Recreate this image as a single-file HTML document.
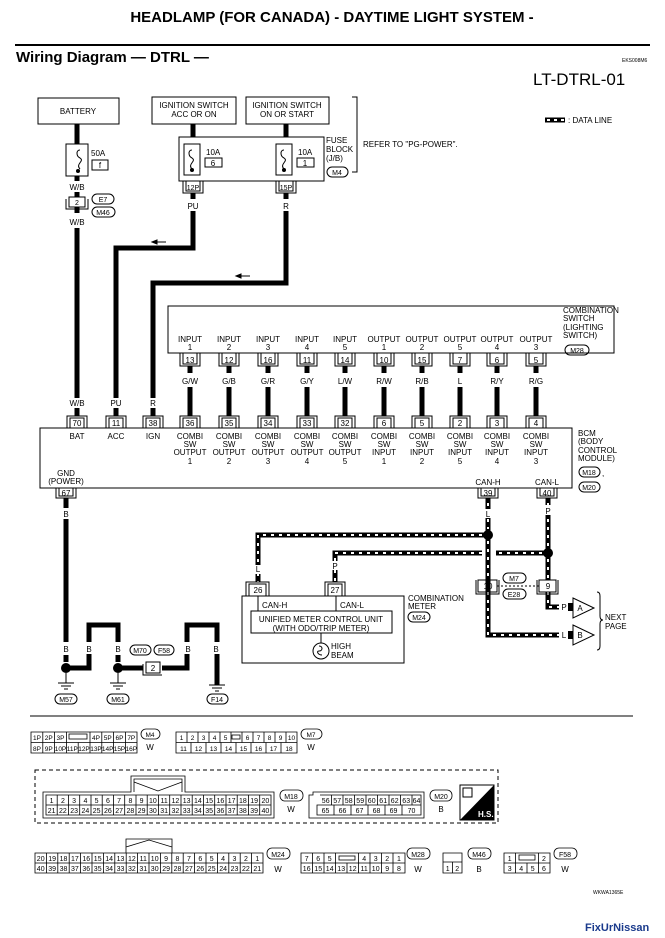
<!DOCTYPE html>
<html><head><meta charset="utf-8"><style>
html,body{margin:0;padding:0;background:#fff;}
svg{display:block;font-family:"Liberation Sans",Arial,sans-serif;}
</style></head><body>
<svg width="665" height="938" viewBox="0 0 665 938" xmlns="http://www.w3.org/2000/svg">
<rect width="665" height="938" fill="#fff"/>
<text x="332" y="22" font-size="15" font-weight="bold" text-anchor="middle">HEADLAMP (FOR CANADA) - DAYTIME LIGHT SYSTEM -</text>
<line x1="15" y1="45" x2="650" y2="45" stroke="#000" stroke-width="2"/>
<text x="16" y="62" font-size="15" font-weight="bold">Wiring Diagram — DTRL —</text>
<text x="622" y="62" font-size="5">EKS008M6</text>
<text x="533" y="85" font-size="17">LT-DTRL-01</text>
<line x1="545" y1="120" x2="565" y2="120" stroke="#000" stroke-width="5"/>
<line x1="545" y1="120" x2="565" y2="120" stroke="#fff" stroke-width="2" stroke-dasharray="3 4" stroke-dashoffset="-2"/>
<text x="568" y="123" font-size="8">: DATA LINE</text>

<g fill="none" stroke="#000" stroke-width="1">
<rect x="38" y="98" width="81" height="26"/>
<rect x="152" y="97" width="84" height="27"/>
<rect x="246" y="97" width="83" height="27"/>
<path d="M352 97 H357 V172 H352"/>
<rect x="179" y="137" width="145" height="44"/>
<rect x="66" y="144" width="22" height="32"/>
<rect x="184" y="144" width="16" height="31"/>
<rect x="276" y="144" width="16" height="31"/>
<rect x="92" y="160" width="16" height="10"/>
<rect x="205" y="158" width="17" height="9"/>
<rect x="297" y="158" width="17" height="9"/>
<rect x="327" y="167" width="21" height="10" rx="5"/>
<path d="M80 150 c-4 0 -4 6 0 8 c5 3 -5 6 0 11"/>
<path d="M192 150 c-4 0 -4 6 0 8 c5 3 -5 6 0 11"/>
<path d="M284 150 c-4 0 -4 6 0 8 c5 3 -5 6 0 11"/>
</g>
<g fill="#000"><circle cx="78" cy="171" r="2"/><circle cx="192" cy="170" r="2"/><circle cx="284" cy="170" r="2"/></g>
<g font-size="8" text-anchor="middle">
<text x="78" y="114">BATTERY</text>
<text x="194" y="108">IGNITION SWITCH</text><text x="194" y="117">ACC OR ON</text>
<text x="287" y="108">IGNITION SWITCH</text><text x="287" y="117">ON OR START</text>
<text x="100" y="168">f</text><text x="213" y="166">6</text><text x="305" y="166">1</text>
<text x="337" y="175" font-size="7">M4</text>
</g>
<g font-size="8">
<text x="91" y="156">50A</text><text x="206" y="155">10A</text><text x="298" y="155">10A</text>
<text x="326" y="143">FUSE</text><text x="326" y="152">BLOCK</text><text x="326" y="161">(J/B)</text>
<text x="363" y="147">REFER TO "PG-POWER".</text>
</g>
<g fill="none" stroke="#000"><path d="M183 181 V193 H203 V181 M186 181 V191 H200 V181"/><path d="M276 181 V193 H296 V181 M279 181 V191 H293 V181"/></g>
<g font-size="7" text-anchor="middle"><text x="193" y="190">12P</text><text x="286" y="190">15P</text></g>
<g stroke="#000" stroke-width="5" fill="none">
<line x1="77" y1="124" x2="77" y2="144"/><line x1="77" y1="176" x2="77" y2="181"/>
<line x1="77" y1="192" x2="77" y2="197"/><line x1="77" y1="207" x2="77" y2="213"/>
<line x1="77" y1="228" x2="77" y2="398"/><line x1="77" y1="408" x2="77" y2="416"/>
<line x1="193" y1="124" x2="193" y2="137"/><line x1="286" y1="124" x2="286" y2="137"/>
<line x1="193" y1="193" x2="193" y2="199"/><line x1="286" y1="193" x2="286" y2="199"/>
<path d="M193 211 V248 H116 V398"/><line x1="116" y1="408" x2="116" y2="416"/>
<path d="M286 211 V283 H153 V398"/><line x1="153" y1="408" x2="153" y2="416"/>
</g>
<g font-size="8" text-anchor="middle">
<text x="77" y="190">W/B</text><text x="77" y="225">W/B</text>
<text x="193" y="209">PU</text><text x="286" y="209">R</text>
<text x="77" y="406">W/B</text><text x="116" y="406">PU</text><text x="153" y="406">R</text>
</g>
<g fill="none" stroke="#000"><rect x="69" y="197" width="16" height="10"/><path d="M66 199 V209 H88 V199"/>
<rect x="92" y="194" width="22" height="10" rx="5"/><rect x="92" y="207" width="23" height="10" rx="5"/></g>
<g font-size="7" text-anchor="middle"><text x="77" y="205">2</text><text x="103" y="202">E7</text><text x="103" y="215">M46</text></g>
<path d="M152 242 h14 M152 242 l5 -2 v4 z" stroke="#000" fill="#000"/>
<path d="M236 276 h14 M236 276 l5 -2 v4 z" stroke="#000" fill="#000"/>

<rect x="168" y="306" width="446" height="47" fill="none" stroke="#000"/>
<g font-size="8"><text x="563" y="313">COMBINATION</text><text x="563" y="321">SWITCH</text><text x="563" y="330">(LIGHTING</text><text x="563" y="338">SWITCH)</text></g>
<rect x="565" y="345" width="24" height="10" rx="5" fill="none" stroke="#000"/><text x="577" y="353" font-size="7" text-anchor="middle">M28</text>
<g font-size="8" text-anchor="middle">
<text x="190" y="342">INPUT</text><text x="190" y="350">1</text>
<text x="229" y="342">INPUT</text><text x="229" y="350">2</text>
<text x="268" y="342">INPUT</text><text x="268" y="350">3</text>
<text x="307" y="342">INPUT</text><text x="307" y="350">4</text>
<text x="345" y="342">INPUT</text><text x="345" y="350">5</text>
<text x="384" y="342">OUTPUT</text><text x="384" y="350">1</text>
<text x="422" y="342">OUTPUT</text><text x="422" y="350">2</text>
<text x="460" y="342">OUTPUT</text><text x="460" y="350">5</text>
<text x="497" y="342">OUTPUT</text><text x="497" y="350">4</text>
<text x="536" y="342">OUTPUT</text><text x="536" y="350">3</text>
</g>
<g fill="none" stroke="#000">
<path d="M180 353 V366 H200 V353 M183 353 V364 H197 V353"/><path d="M219 353 V366 H239 V353 M222 353 V364 H236 V353"/>
<path d="M258 353 V366 H278 V353 M261 353 V364 H275 V353"/><path d="M297 353 V366 H317 V353 M300 353 V364 H314 V353"/>
<path d="M335 353 V366 H355 V353 M338 353 V364 H352 V353"/><path d="M374 353 V366 H394 V353 M377 353 V364 H391 V353"/>
<path d="M412 353 V366 H432 V353 M415 353 V364 H429 V353"/><path d="M450 353 V366 H470 V353 M453 353 V364 H467 V353"/>
<path d="M487 353 V366 H507 V353 M490 353 V364 H504 V353"/><path d="M526 353 V366 H546 V353 M529 353 V364 H543 V353"/>
</g>
<g font-size="8" text-anchor="middle">
<text x="190" y="363">13</text><text x="229" y="363">12</text><text x="268" y="363">16</text><text x="307" y="363">11</text><text x="345" y="363">14</text>
<text x="384" y="363">10</text><text x="422" y="363">15</text><text x="460" y="363">7</text><text x="497" y="363">6</text><text x="536" y="363">5</text>
<text x="190" y="384">G/W</text><text x="229" y="384">G/B</text><text x="268" y="384">G/R</text><text x="307" y="384">G/Y</text><text x="345" y="384">L/W</text>
<text x="384" y="384">R/W</text><text x="422" y="384">R/B</text><text x="460" y="384">L</text><text x="497" y="384">R/Y</text><text x="536" y="384">R/G</text>
</g>
<g stroke="#000" stroke-width="5">
<path d="M190 366 V373 M190 387 V416 M229 366 V373 M229 387 V416 M268 366 V373 M268 387 V416 M307 366 V373 M307 387 V416 M345 366 V373 M345 387 V416 M384 366 V373 M384 387 V416 M422 366 V373 M422 387 V416 M460 366 V373 M460 387 V416 M497 366 V373 M497 387 V416 M536 366 V373 M536 387 V416"/>
</g>
<rect x="40" y="428" width="532" height="60" fill="none" stroke="#000"/>
<g fill="none" stroke="#000">
<path d="M67 428 V416 H87 V428 M70 428 V418 H84 V428"/><path d="M106 428 V416 H126 V428 M109 428 V418 H123 V428"/>
<path d="M143 428 V416 H163 V428 M146 428 V418 H160 V428"/><path d="M180 428 V416 H200 V428 M183 428 V418 H197 V428"/>
<path d="M219 428 V416 H239 V428 M222 428 V418 H236 V428"/><path d="M258 428 V416 H278 V428 M261 428 V418 H275 V428"/>
<path d="M297 428 V416 H317 V428 M300 428 V418 H314 V428"/><path d="M335 428 V416 H355 V428 M338 428 V418 H352 V428"/>
<path d="M374 428 V416 H394 V428 M377 428 V418 H391 V428"/><path d="M412 428 V416 H432 V428 M415 428 V418 H429 V428"/>
<path d="M450 428 V416 H470 V428 M453 428 V418 H467 V428"/><path d="M487 428 V416 H507 V428 M490 428 V418 H504 V428"/>
<path d="M526 428 V416 H546 V428 M529 428 V418 H543 V428"/>
<path d="M56 488 V498 H76 V488 M59 488 V496 H73 V488"/>
<path d="M478 488 V498 H498 V488 M481 488 V496 H495 V488"/>
<path d="M537 488 V498 H557 V488 M540 488 V496 H554 V488"/>
</g>
<g font-size="8" text-anchor="middle">
<text x="77" y="426">70</text><text x="116" y="426">11</text><text x="153" y="426">38</text><text x="190" y="426">36</text><text x="229" y="426">35</text>
<text x="268" y="426">34</text><text x="307" y="426">33</text><text x="345" y="426">32</text><text x="384" y="426">6</text><text x="422" y="426">5</text>
<text x="460" y="426">2</text><text x="497" y="426">3</text><text x="536" y="426">4</text>
<text x="66" y="496">67</text><text x="488" y="496">39</text><text x="547" y="496">40</text>
<text x="77" y="439">BAT</text><text x="116" y="439">ACC</text><text x="153" y="439">IGN</text>
</g>
<g font-size="8" text-anchor="middle">
<g transform="translate(190 0)"><text y="439">COMBI</text><text y="447">SW</text><text y="455">OUTPUT</text><text y="464">1</text></g>
<g transform="translate(229 0)"><text y="439">COMBI</text><text y="447">SW</text><text y="455">OUTPUT</text><text y="464">2</text></g>
<g transform="translate(268 0)"><text y="439">COMBI</text><text y="447">SW</text><text y="455">OUTPUT</text><text y="464">3</text></g>
<g transform="translate(307 0)"><text y="439">COMBI</text><text y="447">SW</text><text y="455">OUTPUT</text><text y="464">4</text></g>
<g transform="translate(345 0)"><text y="439">COMBI</text><text y="447">SW</text><text y="455">OUTPUT</text><text y="464">5</text></g>
<g transform="translate(384 0)"><text y="439">COMBI</text><text y="447">SW</text><text y="455">INPUT</text><text y="464">1</text></g>
<g transform="translate(422 0)"><text y="439">COMBI</text><text y="447">SW</text><text y="455">INPUT</text><text y="464">2</text></g>
<g transform="translate(460 0)"><text y="439">COMBI</text><text y="447">SW</text><text y="455">INPUT</text><text y="464">5</text></g>
<g transform="translate(497 0)"><text y="439">COMBI</text><text y="447">SW</text><text y="455">INPUT</text><text y="464">4</text></g>
<g transform="translate(536 0)"><text y="439">COMBI</text><text y="447">SW</text><text y="455">INPUT</text><text y="464">3</text></g>
<text x="66" y="476">GND</text><text x="66" y="484">(POWER)</text>
<text x="488" y="485">CAN-H</text><text x="547" y="485">CAN-L</text>
</g>
<g font-size="8"><text x="578" y="436">BCM</text><text x="578" y="444">(BODY</text><text x="578" y="453">CONTROL</text><text x="578" y="461">MODULE)</text><text x="602" y="476">,</text></g>
<g fill="none" stroke="#000"><rect x="579" y="467" width="21" height="10" rx="5"/><rect x="579" y="482" width="21" height="10" rx="5"/></g>
<g font-size="7" text-anchor="middle"><text x="589" y="475">M18</text><text x="589" y="490">M20</text></g>

<g stroke="#000" stroke-width="5" fill="none">
<path d="M66 498 V508 M66 519 V642"/>
<path d="M70 668 H89 V625 H118 V642"/>
<path d="M120 668 H143 M162 668 H187 V625 H217 V685"/>
<path d="M66 655 V662 M118 655 V662"/>
</g>
<g fill="#000"><circle cx="66" cy="668" r="5"/><circle cx="118" cy="668" r="5"/></g>
<g stroke="#000" fill="none"><path d="M66 673 V683 M58 683 H74 M61 686 H71 M64 689 H68"/><path d="M118 673 V683 M110 683 H126 M113 686 H123 M116 689 H120"/><path d="M209 685 H225 M212 688 H222 M215 691 H219"/>
<rect x="146" y="662" width="14" height="11"/><path d="M143 664 V675 H162"/>
<rect x="55" y="694" width="22" height="10" rx="5"/><rect x="107" y="694" width="22" height="10" rx="5"/><rect x="207" y="694" width="21" height="10" rx="5"/>
<rect x="130" y="645" width="21" height="10" rx="5"/><rect x="154" y="645" width="20" height="10" rx="5"/></g>
<g font-size="8" text-anchor="middle" fill="#000">
<rect x="60" y="643" width="12" height="10" fill="#fff"/>
<text x="66" y="517">B</text><text x="66" y="652">B</text><text x="118" y="652">B</text>
<text x="153" y="671">2</text>
<text x="66" y="702" font-size="7">M57</text><text x="118" y="702" font-size="7">M61</text><text x="217" y="702" font-size="7">F14</text>
<text x="140" y="653" font-size="7">M70</text><text x="164" y="653" font-size="7">F58</text>
</g>
<rect x="183" y="642" width="10" height="12" fill="#fff"/><text x="188" y="652" font-size="8" text-anchor="middle">B</text>
<rect x="212" y="642" width="10" height="12" fill="#fff"/><text x="216" y="652" font-size="8" text-anchor="middle">B</text>
<rect x="84" y="642" width="10" height="12" fill="#fff"/><text x="89" y="652" font-size="8" text-anchor="middle">B</text>

<g fill="none" stroke="#000" stroke-width="5">
<path d="M488 498 V635 H565"/><path d="M488 535 H258 V582"/>
<path d="M548 498 V580 M548 592 V607 H565"/><path d="M548 553 H496 M482 553 H335 V582"/>
</g>
<g fill="none" stroke="#fff" stroke-width="2" stroke-dasharray="3 5">
<path d="M488 503 V529 M488 541 V580 M488 592 V635 H562"/><path d="M482 535 H258 V565 M258 573 V582"/>
<path d="M548 503 V547 M548 559 V580 M548 592 V607 H560"/><path d="M542 553 H496 M482 553 H335 V562 M335 570 V582"/>
</g>
<rect x="253" y="565" width="10" height="9" fill="#fff"/><rect x="330" y="561" width="10" height="9" fill="#fff"/><rect x="483" y="509" width="10" height="9" fill="#fff"/><rect x="543" y="505" width="10" height="10" fill="#fff"/>
<g fill="#000"><circle cx="488" cy="535" r="5"/><circle cx="548" cy="553" r="5"/></g>
<g font-size="8" text-anchor="middle"><text x="488" y="517">L</text><text x="548" y="514">P</text><text x="258" y="572">L</text><text x="335" y="569">P</text></g>
<rect x="559" y="602" width="12" height="10" fill="#fff"/><text x="564" y="610" font-size="8" text-anchor="middle">P</text>
<rect x="559" y="630" width="12" height="10" fill="#fff"/><text x="564" y="638" font-size="8" text-anchor="middle">L</text>
<g fill="none" stroke="#000">
<rect x="478" y="580" width="19" height="12"/><path d="M476 580 V594 H499 V580"/>
<rect x="539" y="580" width="17" height="12"/><path d="M537 580 V594 H558 V580"/>
<path d="M497 586 H539" stroke-dasharray="2 2"/>
<rect x="503" y="573" width="23" height="10" rx="5"/><rect x="503" y="589" width="23" height="10" rx="5"/>
<path d="M573 598 L594 608 L573 618 Z"/><path d="M573 625 L594 635 L573 645 Z"/>
<path d="M597 592 q3 0 3 4 V616 q0 4 3 4 q-3 0 -3 4 V646 q0 4 -3 4"/>
<rect x="246" y="582" width="23" height="14"/><rect x="249" y="584" width="17" height="12"/>
<rect x="325" y="582" width="20" height="14"/><rect x="328" y="584" width="14" height="12"/>
<rect x="242" y="596" width="162" height="67"/>
<path d="M258 596 V611 M336 596 V611 M251 611 H392"/>
<rect x="251" y="611" width="141" height="22"/>
<path d="M321 633 V643"/><circle cx="321" cy="651" r="8"/><path d="M319 646 c4 0 4 5 0 5 c-3 0 -1 4 3 4"/>
<rect x="408" y="612" width="22" height="10" rx="5"/>
</g>
<g fill="#000"><rect x="568" y="603" width="5" height="8"/><rect x="568" y="631" width="5" height="8"/></g>
<g font-size="8" text-anchor="middle">
<text x="488" y="589">10</text><text x="548" y="589">9</text><text x="514" y="581" font-size="7">M7</text><text x="514" y="597" font-size="7">E28</text>
<text x="580" y="611">A</text><text x="580" y="638">B</text>
<text x="258" y="593">26</text><text x="335" y="593">27</text>
<text x="321" y="622">UNIFIED METER CONTROL UNIT</text><text x="321" y="631">(WITH ODO/TRIP METER)</text>
<text x="419" y="620" font-size="7">M24</text>
</g>
<g font-size="8"><text x="262" y="608">CAN-H</text><text x="340" y="608">CAN-L</text><text x="331" y="649">HIGH</text><text x="331" y="658">BEAM</text>
<text x="408" y="601">COMBINATION</text><text x="408" y="609">METER</text><text x="605" y="620">NEXT</text><text x="605" y="629">PAGE</text></g>

<line x1="30" y1="716" x2="633" y2="716" stroke="#000"/>

<g fill="none" stroke="#000" stroke-width="0.8">
<path d="M31 732 H137 V753 H31 Z M31 742.5 H137 M42.8 732 V753 M54.6 732 V753 M66.4 732 V742.5 M90 732 V742.5 M101.8 732 V753 M113.6 732 V753 M125.4 732 V753 M66.4 742.5 V753 M78.2 742.5 V753 M90 742.5 V753"/>
<rect x="69" y="734" width="18" height="5"/>
<rect x="141" y="729" width="19" height="10" rx="5"/>
<path d="M176 732 H297 V753 H176 Z M176 742.5 H297 M187 732 V742.5 M198 732 V742.5 M209 732 V742.5 M220 732 V742.5 M231 732 V742.5 M242 732 V742.5 M253 732 V742.5 M264 732 V742.5 M275 732 V742.5 M286 732 V742.5 M191 742.5 V753 M206 742.5 V753 M221 742.5 V753 M236 742.5 V753 M251 742.5 V753 M266 742.5 V753 M281 742.5 V753"/>
<rect x="232" y="735" width="8" height="4"/>
<rect x="301" y="729" width="21" height="10" rx="5"/>
<rect x="35" y="770" width="463" height="53" stroke-dasharray="4 3" stroke-width="1"/>
<path d="M43 792 H131 V776 H185 V792 H274 V818 H43 Z"/>
<path d="M46 795 H271 V815 H46 Z M46 805 H271"/>
<path d="M134 792 V779 H182 V792 M134 782 L158 791 L182 782"/>
<rect x="280" y="790" width="23" height="11" rx="5"/>
<path d="M309 795 H313 V792 H424 V818 H309 Z M317 805 H421 V815 H317 Z M320 795 H421 V805"/>
<rect x="430" y="790" width="22" height="11" rx="5"/>
<path d="M35 853 H263 V873 H35 Z M35 863 H263 M126 853 V839 H172 V853 M126 847 L149 840 L172 847"/>
<rect x="267" y="848" width="23" height="11" rx="5"/>
<path d="M301 853 H405 V873 H301 Z M301 863 H405 M312.5 853 V873 M324 853 V873 M335.5 853 V873 M358.5 853 V873 M370 853 V873 M381.5 853 V873 M393 853 V873 M347 863 V873"/>
<rect x="339" y="856" width="16" height="4"/>
<rect x="407" y="848" width="23" height="11" rx="5"/>
<path d="M443 853 H462 V873 H443 Z M443 862 H462 M452.5 862 V873"/>
<rect x="468" y="848" width="23" height="11" rx="5"/>
<path d="M504 853 H550 V873 H504 Z M504 863 H550 M515.5 853 V873 M538.5 853 V863 M527 863 V873 M538.5 863 V873"/>
<rect x="519" y="855" width="16" height="5"/>
<rect x="554" y="848" width="23" height="11" rx="5"/>
</g>
<g stroke="#000" stroke-width="0.8">
<path d="M57.2 795 V815 M68.5 795 V815 M79.7 795 V815 M91 795 V815 M102.2 795 V815 M113.5 795 V815 M124.7 795 V815 M136 795 V815 M147.2 795 V815 M158.5 795 V815 M169.7 795 V815 M181 795 V815 M192.2 795 V815 M203.5 795 V815 M214.7 795 V815 M226 795 V815 M237.2 795 V815 M248.5 795 V815 M259.7 795 V815"/>
<path d="M46.4 853 V873 M57.8 853 V873 M69.2 853 V873 M80.6 853 V873 M92 853 V873 M103.4 853 V873 M114.8 853 V873 M126.2 853 V873 M137.6 853 V873 M149 853 V873 M160.4 853 V873 M171.8 853 V873 M183.2 853 V873 M194.6 853 V873 M206 853 V873 M217.4 853 V873 M228.8 853 V873 M240.2 853 V873 M251.6 853 V873"/>
<path d="M331.5 795 V805 M343 795 V805 M354.5 795 V805 M366 795 V805 M377.5 795 V805 M389 795 V805 M400.5 795 V805 M412 795 V805 M334 805 V815 M351 805 V815 M368 805 V815 M385 805 V815 M402 805 V815"/>
</g>
<g font-size="6.5" text-anchor="middle">
<text x="37" y="740">1P</text><text x="48.7" y="740">2P</text><text x="60.5" y="740">3P</text><text x="96" y="740">4P</text><text x="107.7" y="740">5P</text><text x="119.5" y="740">6P</text><text x="131.3" y="740">7P</text>
<text x="37" y="751">8P</text><text x="48.7" y="751">9P</text><text x="60.5" y="751">10P</text><text x="72.3" y="751">11P</text><text x="84" y="751">12P</text><text x="96" y="751">13P</text><text x="107.7" y="751">14P</text><text x="119.5" y="751">15P</text><text x="131.3" y="751">16P</text>
<text x="181.5" y="740">1</text><text x="192.5" y="740">2</text><text x="203.5" y="740">3</text><text x="214.5" y="740">4</text><text x="225.5" y="740">5</text><text x="247.5" y="740">6</text><text x="258.5" y="740">7</text><text x="269.5" y="740">8</text><text x="280.5" y="740">9</text><text x="291.5" y="740">10</text>
<text x="183.5" y="751">11</text><text x="198.5" y="751">12</text><text x="213.5" y="751">13</text><text x="228.5" y="751">14</text><text x="243.5" y="751">15</text><text x="258.5" y="751">16</text><text x="273.5" y="751">17</text><text x="289" y="751">18</text>
<text x="150" y="737">M4</text><text x="150" y="750" font-size="8">W</text><text x="311" y="737">M7</text><text x="311" y="750" font-size="8">W</text>
</g>
<g font-size="7" text-anchor="middle">
<text x="51.6" y="803">1</text><text x="62.9" y="803">2</text><text x="74.1" y="803">3</text><text x="85.4" y="803">4</text><text x="96.6" y="803">5</text><text x="107.9" y="803">6</text><text x="119.1" y="803">7</text><text x="130.4" y="803">8</text><text x="141.6" y="803">9</text><text x="152.9" y="803">10</text><text x="164.1" y="803">11</text><text x="175.4" y="803">12</text><text x="186.6" y="803">13</text><text x="197.9" y="803">14</text><text x="209.1" y="803">15</text><text x="220.4" y="803">16</text><text x="231.6" y="803">17</text><text x="242.9" y="803">18</text><text x="254.1" y="803">19</text><text x="265.4" y="803">20</text>
<text x="51.6" y="813">21</text><text x="62.9" y="813">22</text><text x="74.1" y="813">23</text><text x="85.4" y="813">24</text><text x="96.6" y="813">25</text><text x="107.9" y="813">26</text><text x="119.1" y="813">27</text><text x="130.4" y="813">28</text><text x="141.6" y="813">29</text><text x="152.9" y="813">30</text><text x="164.1" y="813">31</text><text x="175.4" y="813">32</text><text x="186.6" y="813">33</text><text x="197.9" y="813">34</text><text x="209.1" y="813">35</text><text x="220.4" y="813">36</text><text x="231.6" y="813">37</text><text x="242.9" y="813">38</text><text x="254.1" y="813">39</text><text x="265.4" y="813">40</text>
<text x="291" y="799">M18</text><text x="291" y="812" font-size="8">W</text>
<text x="325.7" y="803">56</text><text x="337.2" y="803">57</text><text x="348.7" y="803">58</text><text x="360.2" y="803">59</text><text x="371.7" y="803">60</text><text x="383.2" y="803">61</text><text x="394.7" y="803">62</text><text x="406.2" y="803">63</text><text x="416.5" y="803">64</text>
<text x="325.5" y="813">65</text><text x="342.5" y="813">66</text><text x="359.5" y="813">67</text><text x="376.5" y="813">68</text><text x="393.5" y="813">69</text><text x="411.5" y="813">70</text>
<text x="441" y="799">M20</text><text x="441" y="812" font-size="8">B</text>
<text x="40.7" y="861">20</text><text x="52.1" y="861">19</text><text x="63.5" y="861">18</text><text x="74.9" y="861">17</text><text x="86.3" y="861">16</text><text x="97.7" y="861">15</text><text x="109.1" y="861">14</text><text x="120.5" y="861">13</text><text x="131.9" y="861">12</text><text x="143.3" y="861">11</text><text x="154.7" y="861">10</text><text x="166.1" y="861">9</text><text x="177.5" y="861">8</text><text x="188.9" y="861">7</text><text x="200.3" y="861">6</text><text x="211.7" y="861">5</text><text x="223.1" y="861">4</text><text x="234.5" y="861">3</text><text x="245.9" y="861">2</text><text x="257.3" y="861">1</text>
<text x="40.7" y="871">40</text><text x="52.1" y="871">39</text><text x="63.5" y="871">38</text><text x="74.9" y="871">37</text><text x="86.3" y="871">36</text><text x="97.7" y="871">35</text><text x="109.1" y="871">34</text><text x="120.5" y="871">33</text><text x="131.9" y="871">32</text><text x="143.3" y="871">31</text><text x="154.7" y="871">30</text><text x="166.1" y="871">29</text><text x="177.5" y="871">28</text><text x="188.9" y="871">27</text><text x="200.3" y="871">26</text><text x="211.7" y="871">25</text><text x="223.1" y="871">24</text><text x="234.5" y="871">23</text><text x="245.9" y="871">22</text><text x="257.3" y="871">21</text>
<text x="278" y="857">M24</text><text x="278" y="872" font-size="8">W</text>
<text x="306.7" y="861">7</text><text x="318.2" y="861">6</text><text x="329.7" y="861">5</text><text x="364.2" y="861">4</text><text x="375.7" y="861">3</text><text x="387.2" y="861">2</text><text x="399" y="861">1</text>
<text x="306.7" y="871">16</text><text x="318.2" y="871">15</text><text x="329.7" y="871">14</text><text x="341.2" y="871">13</text><text x="352.7" y="871">12</text><text x="364.2" y="871">11</text><text x="375.7" y="871">10</text><text x="387.2" y="871">9</text><text x="399" y="871">8</text>
<text x="418" y="857">M28</text><text x="418" y="872" font-size="8">W</text>
<text x="447.7" y="871">1</text><text x="457.2" y="871">2</text><text x="479" y="857">M46</text><text x="479" y="872" font-size="8">B</text>
<text x="509.7" y="861">1</text><text x="544" y="861">2</text><text x="509.7" y="871">3</text><text x="521.2" y="871">4</text><text x="532.7" y="871">5</text><text x="544" y="871">6</text>
<text x="565" y="857">F58</text><text x="565" y="872" font-size="8">W</text>
</g>
<path d="M460 785 H494 V820 H460 Z" fill="#fff" stroke="#000"/>
<path d="M494 785 V820 H460 Z" fill="#000"/>
<text x="478" y="817" font-size="8" font-weight="bold" fill="#fff">H.S.</text>
<rect x="463" y="788" width="9" height="9" fill="none" stroke="#000"/>
<text x="593" y="894" font-size="5">WKWA1365E</text>
<text x="585" y="931" font-size="11" font-weight="bold" fill="#1a3a8c">FixUrNissan</text>
</svg>
</body></html>
